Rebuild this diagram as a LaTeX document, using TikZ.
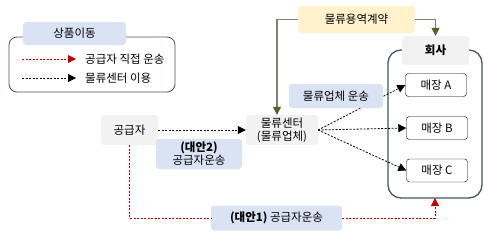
\documentclass[tikz,border=0pt]{standalone}
\usepackage{fontspec}
\setmainfont{Noto Sans CJK KR}
\usetikzlibrary{arrows.meta,positioning}
\definecolor{boxgray}{RGB}{242,242,242}
\definecolor{boxblue}{RGB}{218,227,243}
\definecolor{boxyellow}{RGB}{255,242,204}
\definecolor{framecol}{RGB}{68,84,106}
\definecolor{linegray}{RGB}{127,127,115}
\definecolor{arrowgreen}{RGB}{79,98,40}
\definecolor{dashred}{RGB}{192,0,0}

\begin{document}
\begin{tikzpicture}[
        x=1pt, y=-1pt,
        font=\fontsize{11.5}{13}\selectfont,
        graybox/.style={fill=boxgray, rounded corners=3pt, align=center,
            inner sep=1pt},
        bluebox/.style={fill=boxblue, rounded corners=3pt, align=center,
            inner sep=1pt},
        storebox/.style={draw, rounded corners=3pt, minimum width=61pt,
            minimum height=23pt, inner sep=1pt},
        blackarrow/.style={-{Triangle[length=8pt,width=8pt]},
            dash pattern=on 2pt off 1.5pt, thick},
        redarrow/.style={-{Triangle[length=8pt,width=8pt]}, dashred,
            dash pattern=on 2pt off 1.5pt, thick},
        greenarrow/.style={-{Triangle[length=8pt,width=8pt,color=arrowgreen,
            fill=arrowgreen]}, linegray, line width=1.2pt}
    ]
    \useasboundingbox (0,0) rectangle (490,242);

    % legend
    \draw[framecol, thick, rounded corners=8pt] (9,37) rectangle (175,92);
    \node[bluebox, minimum width=103pt, minimum height=23pt] (legtitle)
    at (74.5,33.5) {상품이동};
    \coordinate (reds) at (22,59);
    \coordinate (rede) at (76,59);
    \coordinate (blks) at (22,78);
    \coordinate (blke) at (76,78);
    \draw[redarrow] (reds) -- (rede);
    \draw[blackarrow] (blks) -- (blke);
    \node[anchor=west, inner sep=0pt] (legred) at (85,59) {공급자 직접 운송};
    \node[anchor=west, inner sep=0pt] (legblk) at (85,78) {물류센터 이용};

    % company
    \draw[framecol, line width=1.3pt, rounded corners=13pt] (388,50) rectangle (482,198);
    \coordinate (outersouth) at (435,198);
    \node[graybox, minimum width=67pt, minimum height=29pt] (hoesa)
    at (435.5,50.5) {\textbf{회사}};
    \node[storebox] (storeA) at (436,85) {매장 A};
    \node[storebox] (storeB) at (437,128) {매장 B};
    \node[storebox] (storeC) at (437,170.5) {매장 C};

    % supplier and center
    \node[graybox, minimum width=57pt, minimum height=30pt] (supplier)
    at (129.5,130) {공급자};
    \node[graybox, minimum width=72pt, minimum height=30pt] (center)
    at (282,130) {물류센터\\(물류업체)};
    \node[fill=boxyellow, rounded corners=3pt,
        minimum width=117pt, minimum height=27pt] (contract)
    at (356.5,19.5) {물류용역계약};

    \draw[greenarrow] (contract.west) -| ([xshift=-5pt]center.north);
    \draw[greenarrow] (contract.east) -| (hoesa.north);

    \draw[blackarrow] (supplier) -- (center);
    \node[bluebox, minimum width=86pt, minimum height=30pt] (alt2)
    at (199,154) {\textbf{(대안2)}\\공급자운송};

    \draw[blackarrow] (center.east) -- (storeA.west);
    \draw[blackarrow] (center.east) -- (storeB.west);
    \draw[blackarrow] (center.east) -- (storeC.west);
    \node[bluebox, minimum width=94pt, minimum height=24pt] (carrier)
    at (336,96) {물류업체 운송};

    % alternative 1
    \node[bluebox, minimum width=131pt, minimum height=25pt] (alt1)
    at (276.5,218) {\textbf{(대안1)} 공급자운송};
    \draw[redarrow, -] (supplier.south) |- (alt1.west);
    \draw[redarrow] (alt1.east) -| (outersouth);
\end{tikzpicture}
\end{document}
